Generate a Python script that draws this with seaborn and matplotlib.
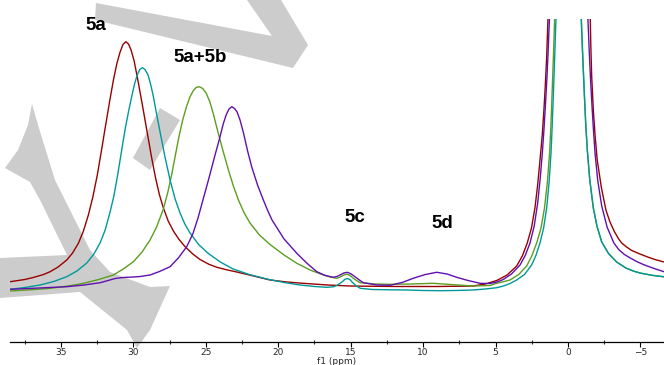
import numpy as np
import pandas as pd
import matplotlib
matplotlib.use("Agg")
import matplotlib.pyplot as plt
import seaborn as sns
from matplotlib.patches import Polygon

# ---- spectra (ppm, intensity in arbitrary units) ----
red_ppm = [38.51, 37.5, 36.92, 36.2, 35.75, 35.2, 34.6, 34.2, 33.8, 33.45,
           33.11, 32.8, 32.48, 32.2, 31.95, 31.65, 31.38, 31.15, 30.92, 30.72,
           30.52, 30.34, 30.16, 29.95, 29.72, 29.38, 29.03, 28.75, 28.47, 28.2,
           27.93, 27.6, 27.24, 26.85, 26.43, 25.9, 25.4, 24.8, 24.24, 23.5,
           22.86, 21.7, 20.57, 19.4, 18.29, 16.6, 15.04, 13.3, 11.59, 9.0,
           6.56, 5.7, 4.92, 4.2, 3.54, 3.15, 2.81, 2.52, 2.28, 2.1,
           1.93, 1.78, 1.66, 1.57, 1.48, 1.43, 1.38, 1.2, 0.0, -1.3,
           -1.54, -1.58, -1.64, -1.75, -1.88, -2.02, -2.3, -2.62, -2.9, -3.2,
           -3.5, -3.71, -4.0, -4.4, -4.97, -5.5, -6.0, -6.63]
red_int = [60.3, 62.5, 64.5, 67.5, 70.3, 75, 82, 89, 98.7, 111,
           127, 145, 168, 192, 214, 240, 262, 278, 290, 297.5,
           300.3, 298, 292, 281, 264, 237, 208, 185, 164, 147,
           134, 121, 111, 102.5, 95.3, 88, 82.5, 77.8, 74.7, 72,
           70, 66, 62, 60, 58.7, 57, 56, 55.7, 55.5, 55.5,
           56, 58, 61.5, 67, 76, 86, 99, 114, 134, 156,
           182, 206, 232, 255, 282, 302, 323, 420, 1500, 420,
           323, 295, 265, 232, 205, 182, 155, 132, 120, 110.5,
           103, 99, 95.5, 91.5, 88, 85, 82.5, 80]

cyan_ppm = [38.51, 37.5, 36.44, 35.5, 34.6, 33.9, 33.22, 32.75, 32.3, 31.95,
            31.61, 31.35, 31.1, 30.83, 30.57, 30.33, 30.11, 29.92, 29.74, 29.56,
            29.38, 29.2, 28.99, 28.8, 28.62, 28.4, 28.16, 27.82, 27.47, 27.12,
            26.78, 26.45, 26.09, 25.5, 24.84, 24.0, 23.12, 22.0, 20.79, 19.6,
            18.5, 17.5, 16.65, 16.2, 15.96, 15.75, 15.6, 15.42, 15.23, 15.05,
            14.91, 14.65, 14.35, 13.5, 12.3, 11.13, 10.0, 8.83, 7.7, 6.56,
            5.7, 4.92, 4.45, 4.0, 3.54, 3.0, 2.51, 2.2, 1.93, 1.68,
            1.47, 1.3, 1.17, 1.10, 1.03, 0.96, 0.895, 0.83, 0.55, -0.05,
            -0.65, -0.92, -0.99, -1.06, -1.14, -1.22, -1.33, -1.5, -1.75, -2.0,
            -2.33, -2.8, -3.36, -4.0, -4.5, -4.97, -5.8, -6.63]
cyan_int = [52.7, 54.5, 57, 60.5, 65.3, 71, 79, 87.5, 99, 112,
            130, 146, 166, 190, 213, 231, 246, 258, 267, 272.5,
            274.3, 272.5, 267, 257, 245.3, 228, 210, 185, 162, 143,
            129, 118, 109, 97.5, 88.7, 80, 73, 67.5, 63, 59.5,
            57, 55.5, 54.7, 55.2, 56.5, 58.5, 60, 62.5, 63.5, 62.5,
            60, 56.5, 53.7, 52.5, 52.2, 52, 51.5, 51.3, 51.5, 52,
            53, 54.3, 56, 58.5, 62, 67.5, 77, 87, 99, 114,
            134, 160, 189, 212, 239, 267, 294, 323, 450, 1500,
            450, 323, 296, 272, 245, 220, 193, 163, 134, 116,
            100, 88.5, 80, 74, 71, 69, 66.7, 65.2]

green_ppm = [38.51, 37.0, 35.75, 34.5, 33.45, 32.4, 31.38, 30.7, 30.0, 29.4,
             28.85, 28.4, 27.93, 27.62, 27.35, 27.1, 26.89, 26.6, 26.32, 26.1,
             25.88, 25.67, 25.45, 25.22, 24.98, 24.72, 24.48, 24.2, 23.85, 23.44,
             23.1, 22.75, 22.35, 21.95, 21.3, 20.57, 19.6, 18.72, 17.8, 16.89,
             16.4, 15.96, 15.78, 15.6, 15.4, 15.23, 15.05, 14.84, 14.6, 14.35,
             13.3, 12.28, 10.8, 9.3, 7.9, 6.56, 5.38, 4.92, 4.45, 4.0,
             3.4, 2.85, 2.5, 2.16, 1.86, 1.62, 1.42, 1.27, 1.19, 1.12,
             1.05, 0.985, 0.92, 0.55, -0.05, -0.65, -0.92, -0.99, -1.06, -1.14,
             -1.22, -1.33, -1.5, -1.75, -2.0, -2.33, -2.8, -3.36, -4.0, -4.5,
             -4.97, -5.8, -6.63]
green_int = [51, 52.3, 53.7, 56, 58.7, 62.5, 67, 73, 80.3, 90,
             102, 115, 133, 150, 168, 187, 203, 222, 236, 245,
             251, 254.5, 255.3, 253.5, 249, 240, 228, 212, 193, 172,
             156, 142, 129, 119, 107, 97.5, 87, 78.7, 72, 67,
             65, 63.7, 64.5, 66, 67.5, 67.7, 66.5, 64, 61.5, 59.3,
             58, 57.7, 58, 58.7, 57.3, 56, 56.5, 58.7, 60.3, 62,
             67.5, 76, 86, 99, 114, 134, 160, 189, 212, 239,
             267, 294, 323, 450, 1500, 450, 323, 296, 272, 245,
             220, 193, 163, 134, 116, 100, 88.5, 80, 74, 71,
             69, 66.7, 65.2]

purple_ppm = [38.51, 36.5, 34.6, 33.4, 32.3, 31.75, 31.26, 30.85, 30.46, 30.0,
              29.54, 28.85, 28.2, 27.47, 26.9, 26.32, 25.9, 25.54, 25.2, 24.82,
              24.42, 24.02, 23.8, 23.6, 23.4, 23.21, 23.02, 22.84, 22.64, 22.4,
              22.1, 21.83, 21.43, 21.03, 20.73, 20.43, 19.6, 18.72, 18.0, 17.34,
              16.75, 16.2, 15.95, 15.73, 15.48, 15.23, 15.0, 14.77, 14.45, 14.13,
              13.2, 12.28, 11.45, 10.68, 9.85, 9.06, 8.35, 7.68, 6.9, 6.07,
              5.38, 4.9, 4.47, 3.9, 3.31, 2.95, 2.62, 2.33, 2.09, 1.92,
              1.77, 1.66, 1.56, 1.46, 1.37, 1.28, 0.9, -0.05, -1.0, -1.38,
              -1.47, -1.56, -1.66, -1.76, -1.87, -2.05, -2.33, -2.7, -3.17, -3.5,
              -3.9, -4.3, -4.74, -5.2, -5.7, -6.15, -6.63]
purple_int = [52.7, 54, 55.3, 57, 59.3, 61.5, 63.5, 64.3, 64.7, 65,
              65.5, 67, 70.5, 75.3, 84, 95.3, 108, 124, 142, 162,
              184, 205.3, 218, 227, 233, 235.3, 233.5, 230, 222, 209,
              190, 175, 157, 142, 131.5, 122, 103, 88.7, 78.5, 70.3,
              66.5, 64.7, 65.5, 67, 69, 69.7, 68.3, 66, 62.5, 59.3,
              57, 56.7, 59.5, 63.7, 67.5, 69.7, 68, 64.7, 61.5, 58.7,
              58.5, 60, 62.5, 68, 77, 86.5, 99, 116, 139, 163,
              189, 212, 236, 262, 290, 323, 450, 1500, 450, 323,
              290, 262, 236, 212, 189, 162, 136, 115, 99, 92.5,
              87.5, 84, 80.5, 77.5, 74.8, 72.5, 70.3]

peak_labels = ["5a", "5a+5b", "5c", "5d"]
label_ppm = [32.57, 25.40, 14.73, 8.70]
label_int = [317, 285, 124, 119]

series = [
    (red_ppm, red_int, "#990000"),
    (green_ppm, green_int, "#5c9e1e"),
    (cyan_ppm, cyan_int, "#00999a"),
    (purple_ppm, purple_int, "#6010b0"),
]

sns.set_theme(style="ticks")
plt.rcParams['font.family'] = ['DejaVu Sans']

fig = plt.figure(figsize=(6.64, 3.65), dpi=100)
W, H = 664, 365
ax = fig.add_axes([10 / W, 23 / H, 654 / W, 323 / H])
ax.set_zorder(1)
ax.patch.set_visible(False)

# grey watermark shapes behind the spectra (figure pixel coords)
wm_shapes = [
    [(96, 3), (95, 20), (293, 68), (308, 45), (281, 0), (247, 0), (272, 36)],
    [(160, 108), (180, 120), (150, 170), (133, 158)],
    [(32, 104), (38, 125), (55, 180), (90, 250), (110, 272), (150, 287), (170, 286),
     (150, 330), (137, 348), (127, 330), (80, 292), (0, 298), (0, 258), (67, 255),
     (40, 200), (30, 182), (5, 168), (18, 150), (28, 125)],
]
for shp in wm_shapes:
    pts = [(x / W, 1 - y / H) for x, y in shp]
    fig.add_artist(Polygon(pts, closed=True, transform=fig.transFigure,
                           facecolor="#cccccc", edgecolor="none", zorder=0))

for xs, ys, col in series:
    df = pd.DataFrame({"ppm": xs, "intensity": ys})
    sns.lineplot(data=df, x="ppm", y="intensity", color=col, lw=1.0, ax=ax)

for txt, px, py in zip(peak_labels, label_ppm, label_int):
    ax.text(px, py, txt, ha="center", va="center", fontsize=13.5,
            fontweight="bold", family="Liberation Sans", color="black")

ax.set_xlim(38.52, -6.63)
ax.set_ylim(0, 323)
ax.set_xticks(np.arange(-5, 36, 5))
ax.set_xticks(np.arange(-2.5, 38, 5), minor=True)
ax.tick_params(axis="x", which="major", direction="out", length=3.5, width=0.8,
               pad=1, labelsize=6.5, color="black")
ax.tick_params(axis="x", which="minor", direction="inout", length=2.5, width=0.8)
ax.set_yticks([])
ax.set_ylabel("")
ax.set_xlabel("f1 (ppm)", fontsize=6.5, labelpad=0)
for side in ["left", "top", "right"]:
    ax.spines[side].set_visible(False)
ax.spines["bottom"].set_color("black")
ax.spines["bottom"].set_linewidth(0.9)

fig.savefig("out.png", dpi=100)
